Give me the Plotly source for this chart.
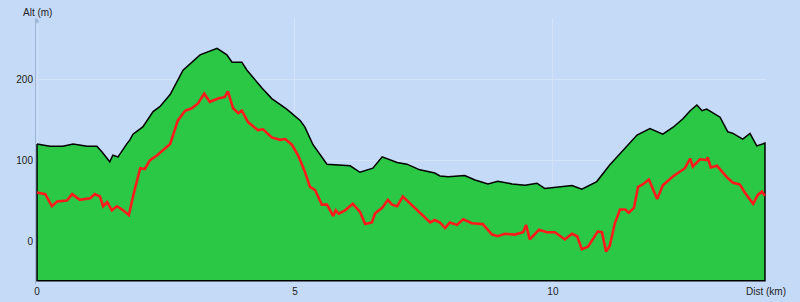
import plotly.graph_objects as go

# Elevation profile (black outline, green fill)
elev_dist = [0.00, 0.25, 0.50, 0.70, 0.97, 1.16, 1.26, 1.41, 1.47, 1.57, 1.74, 1.80, 1.86, 2.05,
             2.25, 2.38, 2.58, 2.83, 3.16, 3.49, 3.68, 3.78, 3.97, 4.07, 4.36, 4.55, 4.84, 5.10,
             5.19, 5.35, 5.62, 5.81, 6.07, 6.26, 6.51, 6.69, 6.98, 7.17, 7.42, 7.71, 7.81, 7.97,
             8.29, 8.49, 8.74, 8.93, 9.21, 9.46, 9.69, 9.84, 10.10, 10.37, 10.56, 10.85, 11.10,
             11.36, 11.63, 11.88, 12.13, 12.33, 12.52, 12.66, 12.79, 12.89, 12.98, 13.24, 13.39,
             13.49, 13.68, 13.82, 13.95, 14.11]
elev_alt = [121, 118, 118, 121, 118, 118, 111, 99, 107, 105, 121, 126, 133, 142,
            161, 167, 182, 212, 231, 239, 231, 222, 222, 212, 190, 177, 164, 150,
            142, 120, 96, 95, 94, 86, 91, 105, 98, 96, 89, 85, 81.5, 80.6,
            82, 76.5, 71.6, 75, 71.6, 70, 72.5, 66, 67.5, 69.5, 65, 74.5, 95,
            113.6, 132, 140, 133, 141.6, 152, 162, 169, 162, 164, 154, 136,
            134, 127, 134, 118.5, 122]

# Second series (red line)
red_dist = [0.00, 0.16, 0.29, 0.39, 0.58, 0.68, 0.83, 1.03, 1.12, 1.22, 1.28, 1.36, 1.45, 1.55,
            1.67, 1.78, 1.86, 1.94, 2.00, 2.09, 2.19, 2.33, 2.44, 2.58, 2.73, 2.87, 3.00, 3.12,
            3.24, 3.35, 3.51, 3.64, 3.70, 3.80, 3.90, 3.97, 4.09, 4.28, 4.38, 4.55, 4.71, 4.81,
            4.94, 5.06, 5.19, 5.29, 5.39, 5.52, 5.62, 5.74, 5.79, 5.85, 5.97, 6.12, 6.26, 6.36,
            6.49, 6.55, 6.69, 6.80, 6.88, 6.98, 7.09, 7.29, 7.48, 7.62, 7.71, 7.81, 7.91, 8.00,
            8.14, 8.26, 8.43, 8.64, 8.82, 8.93, 9.07, 9.26, 9.42, 9.48, 9.55, 9.73, 9.88, 10.04,
            10.23, 10.37, 10.47, 10.56, 10.68, 10.87, 10.95, 11.03, 11.10, 11.20, 11.30, 11.40,
            11.47, 11.57, 11.65, 11.74, 11.86, 12.02, 12.13, 12.33, 12.56, 12.66, 12.71, 12.85,
            12.98, 13.00, 13.06, 13.18, 13.37, 13.49, 13.62, 13.72, 13.88, 13.97, 14.05, 14.11]
red_alt = [61, 59, 44, 50, 51, 59, 52, 54, 59, 56, 44, 49, 39, 44,
           39, 33, 56, 76, 91, 90, 101, 107, 113, 121, 150, 162, 165, 171,
           183, 173, 177, 179, 186, 165, 159, 162, 148, 138, 139, 129, 126, 127,
           120, 107, 87, 68, 64, 46, 46, 32, 39, 35, 39, 47, 37, 22,
           24, 35, 42, 52, 46, 44, 56, 44, 33, 24, 27, 24, 17, 24,
           21, 28, 23, 22, 9, 7, 10, 9, 12, 21, 3, 15, 12, 12,
           3, 10, 7, -9, -6, 13, 12, -12, -5, 23, 40, 40,
           36, 42, 68, 71, 77, 53, 70, 81, 91, 103, 93, 102,
           101, 104.5, 92, 94, 80, 73, 71, 61, 47, 58, 62, 57]

x_ticks = [0, 5, 10]
y_ticks = [0, 100, 200]
BASE = -48

BG = "#c5daf6"
GRID = "#d2e2f9"
FONT = "Liberation Sans, Arial, sans-serif"

fig = go.Figure()

poly_x = elev_dist + [elev_dist[-1], elev_dist[0], elev_dist[0]]
poly_y = elev_alt + [BASE, BASE, elev_alt[0]]

fig.add_trace(go.Scatter(
    x=poly_x, y=poly_y, mode="lines", fill="toself",
    fillcolor="#2ac845", line=dict(color="#000000", width=1.5),
    hoverinfo="skip", showlegend=False))

fig.add_trace(go.Scatter(
    x=red_dist, y=red_alt, mode="lines",
    line=dict(color="#ff1a1a", width=2.6),
    showlegend=False))

fig.update_xaxes(range=[-0.02, 14.13], tickvals=x_ticks, showgrid=True, gridcolor=GRID,
                 gridwidth=1, zeroline=False, showline=False, ticks="", automargin=False,
                 tickfont=dict(family=FONT, size=10, color="#222"))
fig.update_yaxes(range=[-52, 276.5], tickvals=y_ticks, showgrid=True, gridcolor=GRID,
                 gridwidth=1, zeroline=False, showline=True, linecolor="#9fb5d6",
                 linewidth=1, layer="below traces", ticks="", automargin=False,
                 tickfont=dict(family=FONT, size=10, color="#222"))

fig.add_annotation(xref="paper", yref="paper", x=0.0014, y=1, ax=0, ay=7,
                   showarrow=True, arrowhead=2, arrowsize=0.9, arrowwidth=1,
                   arrowcolor="#9fb5d6", text="")
fig.add_annotation(xref="paper", yref="paper", x=0.0014, y=1, yshift=-2,
                   xanchor="center", yanchor="bottom", showarrow=False,
                   text="Alt (m)", font=dict(family=FONT, size=10, color="#222"))
fig.add_annotation(xref="paper", yref="paper", x=1, y=0, yshift=0,
                   xanchor="center", yanchor="top", showarrow=False,
                   text="Dist (km)", font=dict(family=FONT, size=10, color="#222"))

fig.update_layout(width=800, height=302, margin=dict(l=36, r=34, t=18, b=18),
                  paper_bgcolor=BG, plot_bgcolor=BG)

fig.write_html("out.html")
